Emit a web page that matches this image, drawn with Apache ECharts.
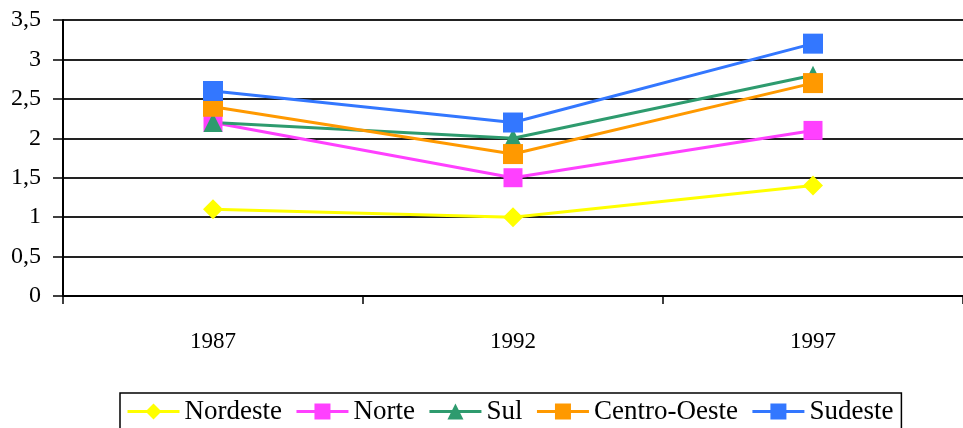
<!DOCTYPE html>
<html>
<head>
<meta charset="utf-8">
<script src="https://cdn.jsdelivr.net/npm/echarts@6/dist/echarts.min.js"></script>
<style>
  html, body { margin: 0; padding: 0; background: #fff; }
  #chart { width: 963px; height: 428px; }
</style>
</head>
<body>
<div id="chart"></div>
<script>
// dados
var anos = ['1987', '1992', '1997'];
var nordeste = [1.1, 1.0, 1.4];
var norte = [2.2, 1.5, 2.1];
var sul = [2.2, 2.0, 2.8];
var centroOeste = [2.4, 1.8, 2.7];
var sudeste = [2.6, 2.2, 3.2];

var chart = echarts.init(document.getElementById('chart'));
var fonte = '"Liberation Serif", "Times New Roman", serif';

function serie(nome, dados, cor, simbolo, tam) {
  return {
    name: nome,
    type: 'line',
    data: dados,
    symbol: simbolo,
    symbolSize: tam,
    lineStyle: { color: cor, width: 3 },
    itemStyle: { color: cor },
    emphasis: { disabled: true }
  };
}

var option = {
  animation: false,
  backgroundColor: '#fff',
  grid: { left: 63, top: 20, right: -8, bottom: 132 },
  xAxis: {
    type: 'category',
    data: anos,
    boundaryGap: true,
    axisLine: { lineStyle: { color: '#000', width: 2 } },
    axisTick: { show: true, length: 8, lineStyle: { color: '#000', width: 1.5 } },
    axisLabel: { color: '#000', fontFamily: fonte, fontSize: 23, margin: 34 }
  },
  yAxis: {
    type: 'value',
    min: 0, max: 3.5, interval: 0.5,
    axisLine: { show: true, lineStyle: { color: '#000', width: 2 } },
    axisTick: { show: true, length: 10, lineStyle: { color: '#000', width: 1.5 } },
    splitLine: { lineStyle: { color: '#222', width: 2 } },
    axisLabel: {
      color: '#000', fontFamily: fonte, fontSize: 24, margin: 22,
      formatter: function (v) { return String(v).replace('.', ','); }
    }
  },
  legend: {
    left: 120, top: 393,
    padding: [5, 8, 20, 6],
    borderColor: '#000', borderWidth: 1.5,
    itemWidth: 52, itemHeight: 20, itemGap: 13,
    lineStyle: { width: 3 },
    textStyle: { color: '#000', fontFamily: fonte, fontSize: 27 },
    data: ['Nordeste', 'Norte', 'Sul', 'Centro-Oeste', 'Sudeste']
  },
  series: [
    serie('Nordeste', nordeste, '#ffff00', 'diamond', 20),
    serie('Norte', norte, '#ff40ff', 'rect', 19),
    serie('Sul', sul, '#2e9b6e', 'triangle', 19),
    serie('Centro-Oeste', centroOeste, '#ff9900', 'rect', 20),
    serie('Sudeste', sudeste, '#3377ff', 'rect', 20)
  ]
};
chart.setOption(option);
</script>
</body>
</html>
